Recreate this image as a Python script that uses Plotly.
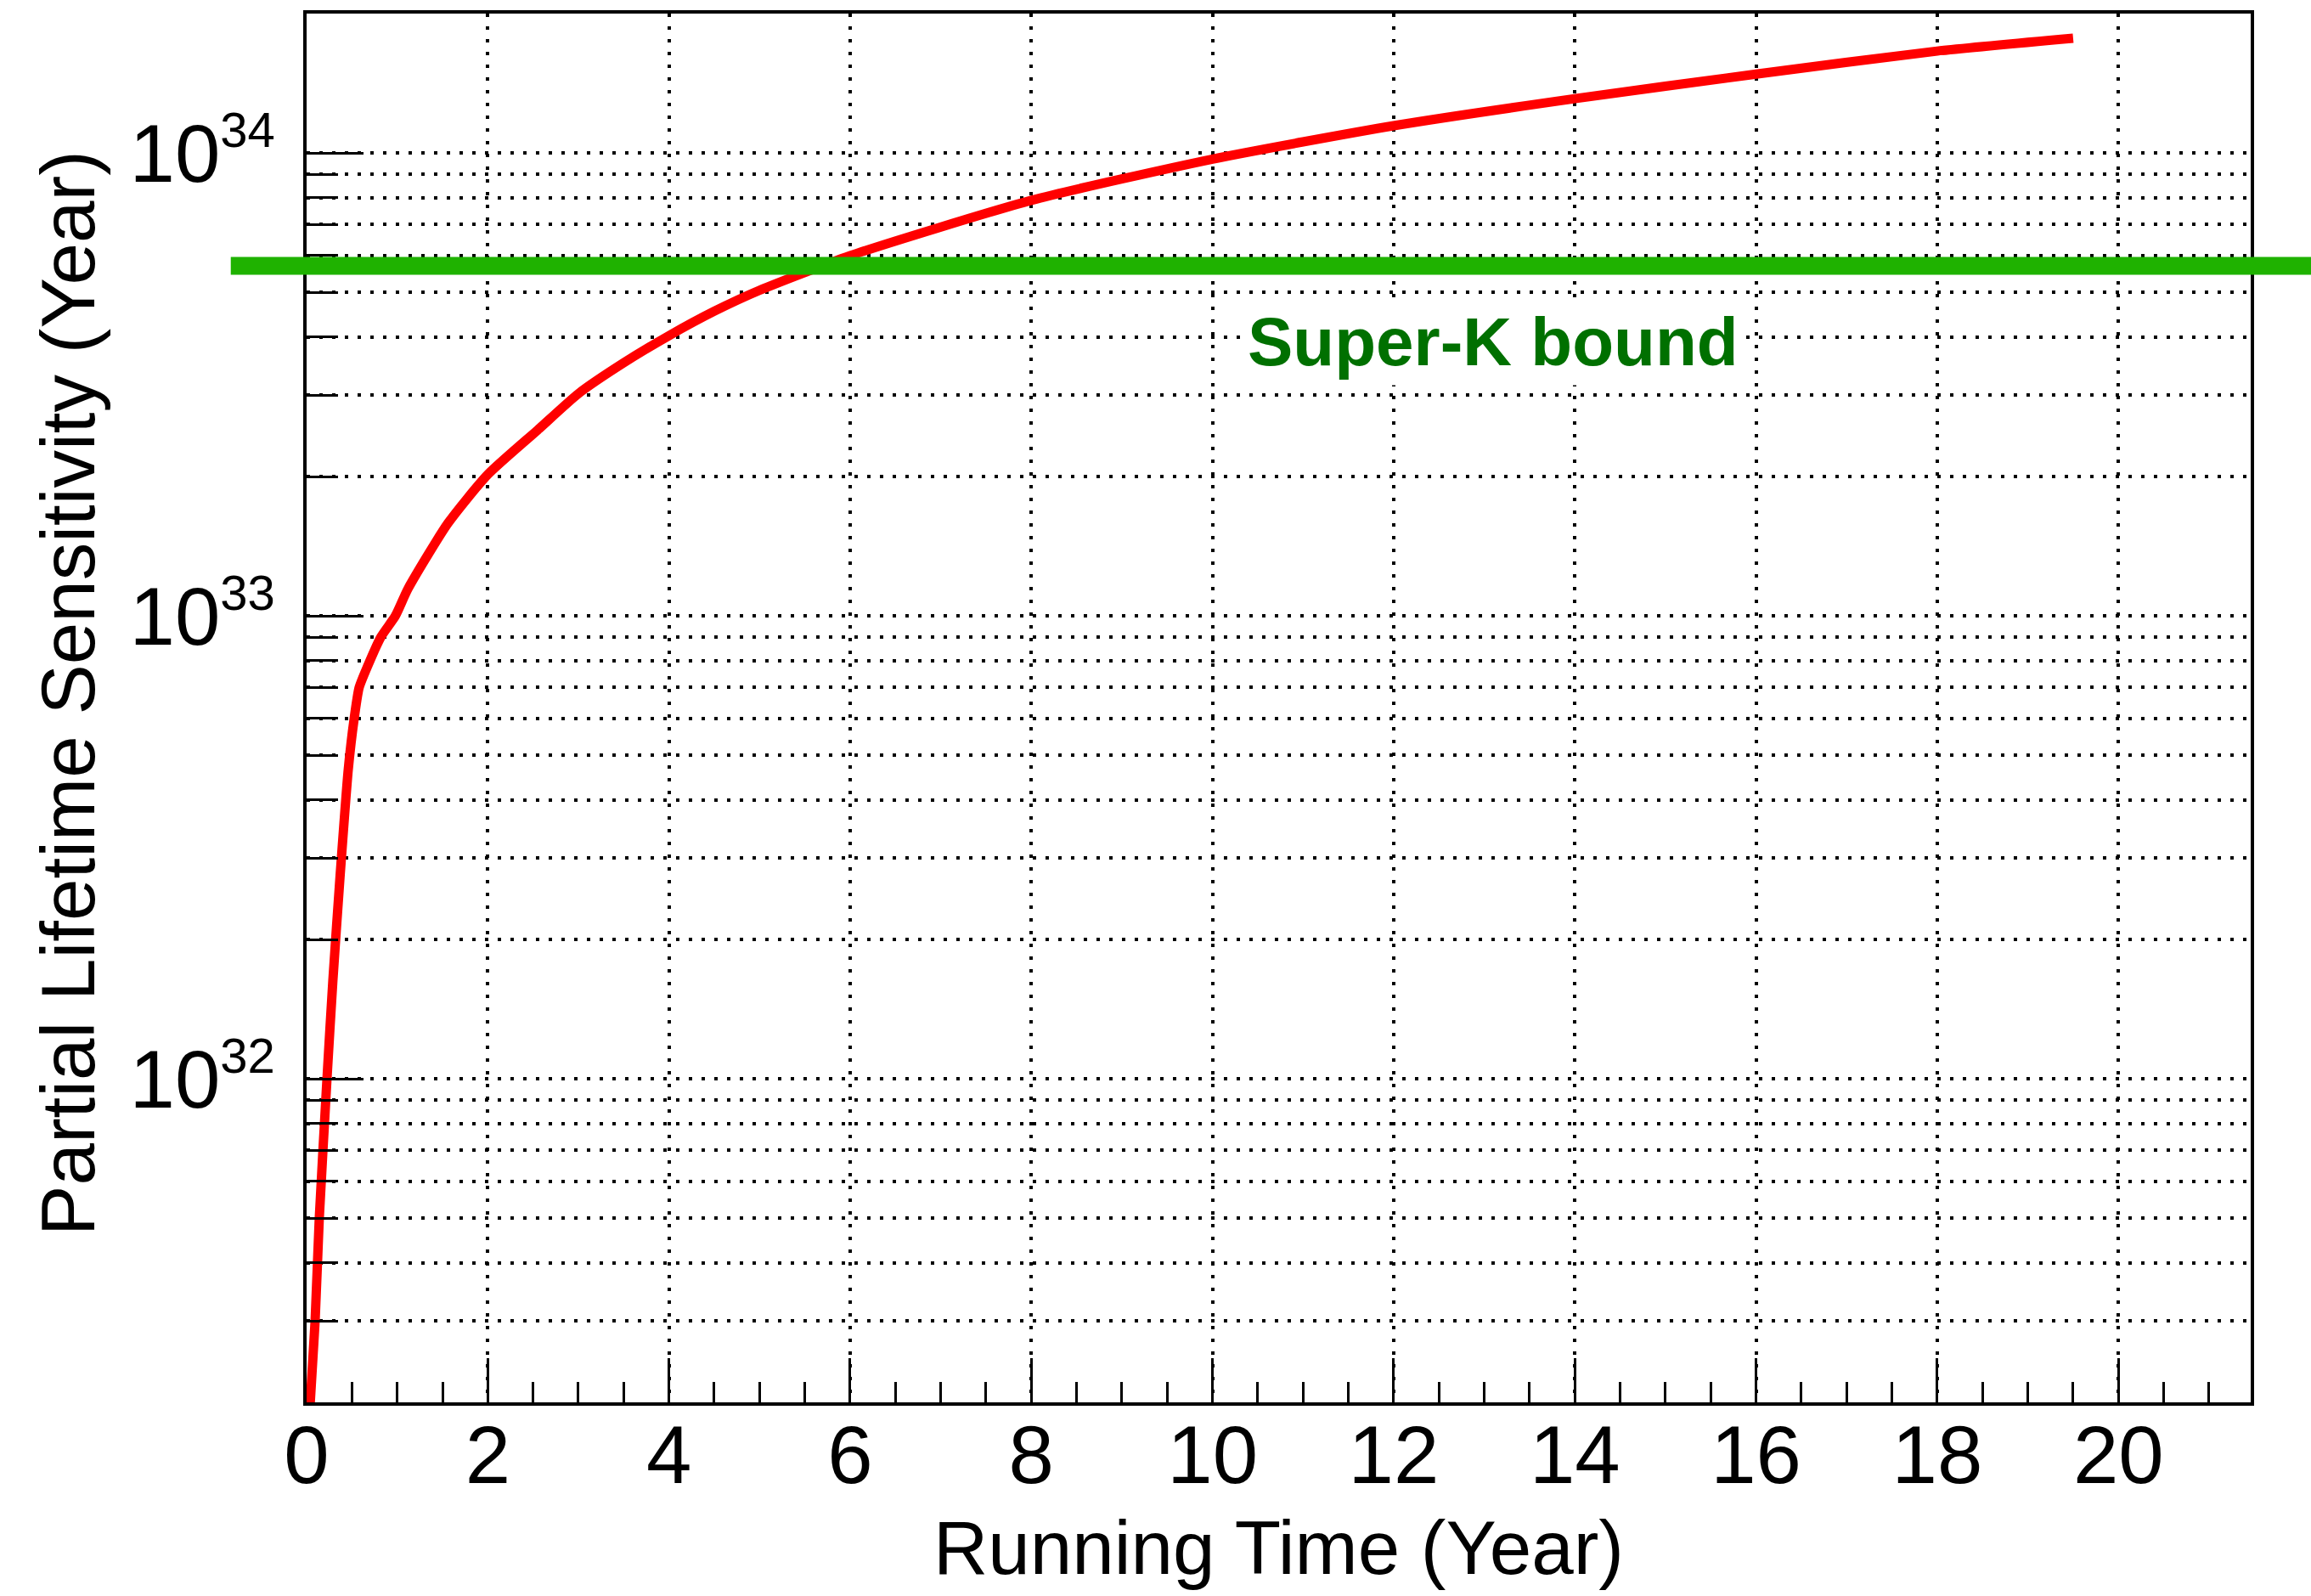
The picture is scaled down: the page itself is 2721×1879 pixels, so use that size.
import math
import plotly.graph_objects as go

# Running time (years) and partial lifetime sensitivity (years)
running_time = [0.03, 0.094, 0.14, 0.225, 0.29, 0.37, 0.46, 0.525, 0.58, 0.675,
                0.82, 0.98, 1.12, 1.56, 2.0, 2.55, 3.0, 3.5, 4.0, 4.5, 5.0, 6.0,
                8.0, 10.0, 12.0, 14.0, 16.0, 18.0, 19.5]
sensitivity = [1.85e31, 3.0e31, 5.0e31, 1.0e32, 1.63e32, 2.75e32, 4.66e32, 6.0e32, 7.0e32, 7.8e32,
               9.0e32, 1.0e33, 1.145e33, 1.585e33, 2.02e33, 2.52e33, 3.02e33, 3.52e33, 4.03e33, 4.55e33,
               5.05e33, 6.0e33, 7.9e33, 9.7e33, 1.145e34, 1.31e34, 1.48e34, 1.66e34, 1.77e34]

# Existing experimental limit
superk_bound = 5.7e33
superk_label = "Super-K bound"

# Axis ticks and titles
x_tick_vals = [0, 2, 4, 6, 8, 10, 12, 14, 16, 18, 20]
y_decades = [32, 33, 34]
y_minor_digits = [2, 3, 4, 5, 6, 7, 8, 9]
x_title = "Running Time (Year)"
y_title = "Partial Lifetime Sensitivity (Year)"

FONT = "Liberation Sans, Arial, Helvetica, sans-serif"
TICK_SIZE = 96
EXP_SIZE = 58

y_major_vals = [10.0 ** d for d in y_decades]
y_major_text = ["10<sup><span style='font-size:%dpx'>%d</span></sup>" % (EXP_SIZE, d)
                for d in y_decades]
y_minor_vals = [m * 10.0 ** d for d in [31, 32, 33, 34] for m in y_minor_digits]

fig = go.Figure()

fig.add_trace(go.Scatter(
    x=running_time, y=sensitivity, mode="lines",
    line=dict(color="#ff0000", width=11, shape="spline", smoothing=0.6),
    showlegend=False, hoverinfo="skip",
))

# Horizontal limit line, running past both frame edges
fig.add_shape(
    type="line", xref="paper", yref="y",
    x0=-0.039, x1=1.04, y0=superk_bound, y1=superk_bound,
    line=dict(color="#1fb200", width=21), layer="above",
)

fig.add_annotation(
    x=13.1, y=math.log10(3.9e33), xref="x", yref="y",
    text="<b>%s</b>" % superk_label, showarrow=False,
    font=dict(family=FONT, size=80, color="#007000"),
    bgcolor="white", borderpad=6, xanchor="center", yanchor="middle",
)

# Vertical axis title placed beside the frame
fig.add_annotation(
    x=-0.1228, y=0.5107, xref="paper", yref="paper",
    text=y_title, textangle=-90, showarrow=False,
    font=dict(family=FONT, size=89, color="black"),
    xanchor="center", yanchor="middle",
)

grid_dash = "4px,11px"

fig.update_xaxes(
    range=[0, 21.46],
    tickmode="array", tickvals=x_tick_vals,
    ticks="inside", ticklen=52, tickwidth=3, tickcolor="black",
    showline=True, linecolor="black", linewidth=4, mirror=True,
    showgrid=True, gridcolor="black", gridwidth=4, griddash=grid_dash,
    zeroline=False,
    tickfont=dict(family=FONT, size=TICK_SIZE, color="black"),
    ticklabelstandoff=-24,
    minor=dict(dtick=0.5, tick0=0, ticks="inside", ticklen=24, tickwidth=3,
               tickcolor="black", showgrid=False),
    title=dict(text=x_title, font=dict(family=FONT, size=89, color="black"),
               standoff=26),
)

fig.update_yaxes(
    type="log",
    range=[math.log10(2e31), math.log10(2e34)],
    tickmode="array", tickvals=y_major_vals, ticktext=y_major_text,
    ticks="inside", ticklen=67, tickwidth=3, tickcolor="black",
    showline=True, linecolor="black", linewidth=4, mirror=True,
    showgrid=True, gridcolor="black", gridwidth=4, griddash=grid_dash,
    zeroline=False,
    tickfont=dict(family=FONT, size=TICK_SIZE, color="black"),
    ticklabelstandoff=14,
    minor=dict(tickmode="array", tickvals=y_minor_vals, ticks="inside", ticklen=37,
               tickwidth=3, tickcolor="black", showgrid=True, gridcolor="black",
               gridwidth=4, griddash=grid_dash),
)

fig.update_layout(
    width=2721, height=1879,
    margin=dict(l=361, r=71, t=16, b=228, pad=0),
    paper_bgcolor="white", plot_bgcolor="white",
    showlegend=False,
)

fig.write_html("out.html")
